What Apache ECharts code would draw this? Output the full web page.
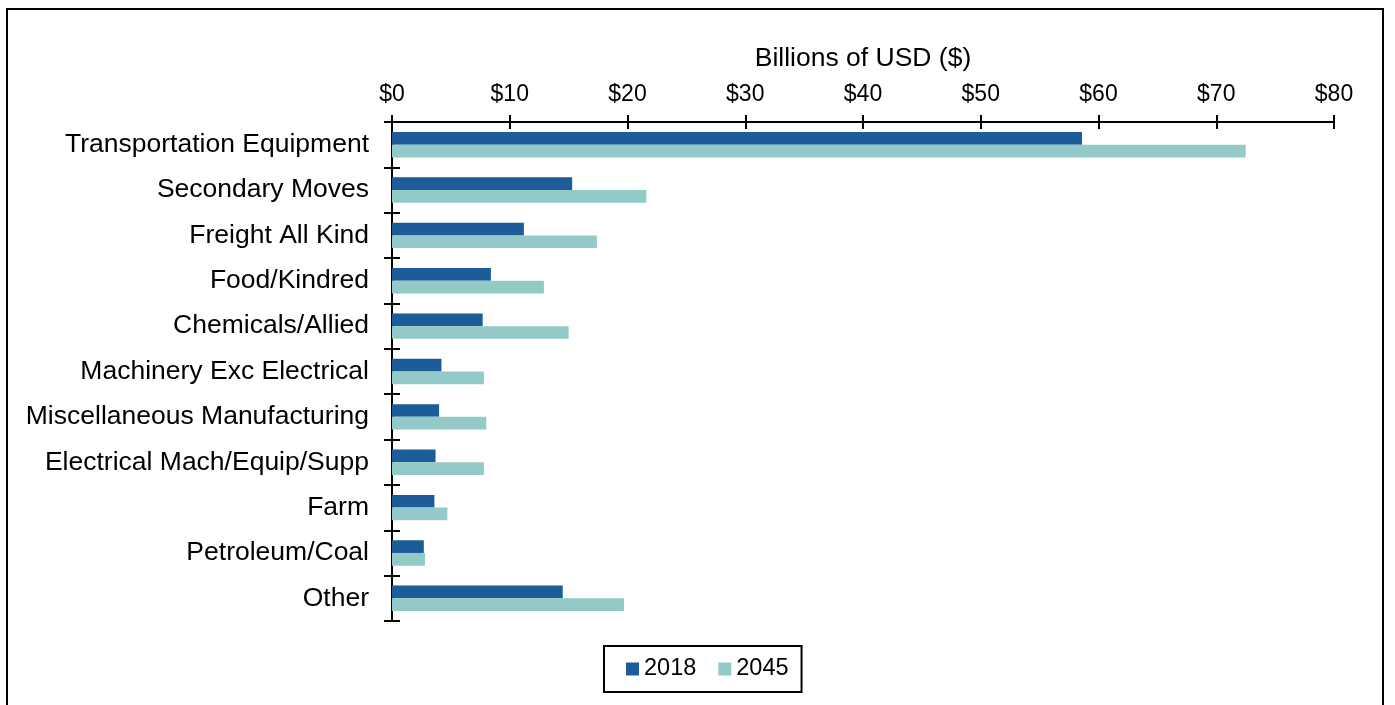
<!DOCTYPE html>
<html>
<head>
<meta charset="utf-8">
<script src="https://cdn.jsdelivr.net/npm/echarts@6/dist/echarts.min.js"></script>
<style>
  html, body { margin: 0; padding: 0; background: #fff; }
  #chart { width: 1395px; height: 705px; }
</style>
</head>
<body>
<div id="chart"></div>
<script>
// Commodity groups, top to bottom
const categories = [
  'Transportation Equipment',
  'Secondary Moves',
  'Freight All Kind',
  'Food/Kindred',
  'Chemicals/Allied',
  'Machinery Exc Electrical',
  'Miscellaneous Manufacturing',
  'Electrical Mach/Equip/Supp',
  'Farm',
  'Petroleum/Coal',
  'Other'
];

// Value in billions of USD
const values2018 = [58.6, 15.3, 11.2, 8.4, 7.7, 4.2, 4.0, 3.7, 3.6, 2.7, 14.5];
const values2045 = [72.5, 21.6, 17.4, 12.9, 15.0, 7.8, 8.0, 7.8, 4.7, 2.8, 19.7];

const seriesNames = ['2018', '2045'];
const axisTitle = 'Billions of USD ($)';

const FONT = 'Liberation Sans, Arial, sans-serif';
const COLOR_2018 = '#1B5C99';
const COLOR_2045 = '#93C9C6';

const chart = echarts.init(document.getElementById('chart'), null, { renderer: 'canvas' });

const valueAxisBase = {
  type: 'value',
  position: 'top',
  min: 0,
  max: 80,
  interval: 10,
  splitLine: { show: false }
};

const catAxisBase = {
  type: 'category',
  data: categories,
  inverse: true,
  position: 'left'
};

chart.setOption({
  animation: false,
  backgroundColor: '#fff',
  textStyle: { fontFamily: FONT, color: '#000' },
  grid: { left: 392, right: 61, top: 122, bottom: 84, containLabel: false },
  xAxis: [
    Object.assign({}, valueAxisBase, {
      name: axisTitle,
      nameLocation: 'middle',
      nameGap: 50,
      nameTextStyle: { fontFamily: FONT, fontSize: 26.5, color: '#000' },
      axisLine: { show: true, lineStyle: { color: '#000', width: 2 } },
      axisTick: { show: true, inside: false, length: 7, lineStyle: { color: '#000', width: 2 } },
      axisLabel: {
        fontFamily: FONT, fontSize: 23, color: '#000', margin: 16,
        formatter: v => '$' + v
      }
    }),
    Object.assign({}, valueAxisBase, {
      axisLine: { show: false },
      axisTick: { show: true, inside: true, length: 7, lineStyle: { color: '#000', width: 2 } },
      axisLabel: { show: false }
    })
  ],
  yAxis: [
    Object.assign({}, catAxisBase, {
      axisLine: { show: true, lineStyle: { color: '#000', width: 2 } },
      axisTick: { show: true, inside: false, length: 8, lineStyle: { color: '#000', width: 2 } },
      axisLabel: { fontFamily: FONT, fontSize: 26.5, color: '#000', margin: 23 }
    }),
    Object.assign({}, catAxisBase, {
      axisLine: { show: false },
      axisTick: { show: true, inside: true, length: 8, lineStyle: { color: '#000', width: 2 } },
      axisLabel: { show: false }
    })
  ],
  legend: {
    data: seriesNames,
    left: 604,
    top: 646,
    orient: 'horizontal',
    icon: 'rect',
    itemWidth: 13,
    itemHeight: 13,
    itemGap: 22,
    padding: [11, 13, 11, 22],
    borderColor: '#000',
    borderWidth: 2,
    textStyle: { fontFamily: FONT, fontSize: 23.5, color: '#000' }
  },
  series: [
    {
      name: seriesNames[0],
      type: 'bar',
      xAxisIndex: 0,
      yAxisIndex: 0,
      data: values2018,
      barGap: '0%',
      barCategoryGap: '44%',
      itemStyle: { color: COLOR_2018 }
    },
    {
      name: seriesNames[1],
      type: 'bar',
      xAxisIndex: 0,
      yAxisIndex: 0,
      data: values2045,
      barGap: '0%',
      barCategoryGap: '44%',
      itemStyle: { color: COLOR_2045 }
    }
  ],
  graphic: [
    {
      type: 'rect',
      silent: true,
      z: 100,
      shape: { x: 7, y: 9, width: 1376, height: 760 },
      style: { fill: 'none', stroke: '#000', lineWidth: 2 }
    }
  ]
});
</script>
</body>
</html>
